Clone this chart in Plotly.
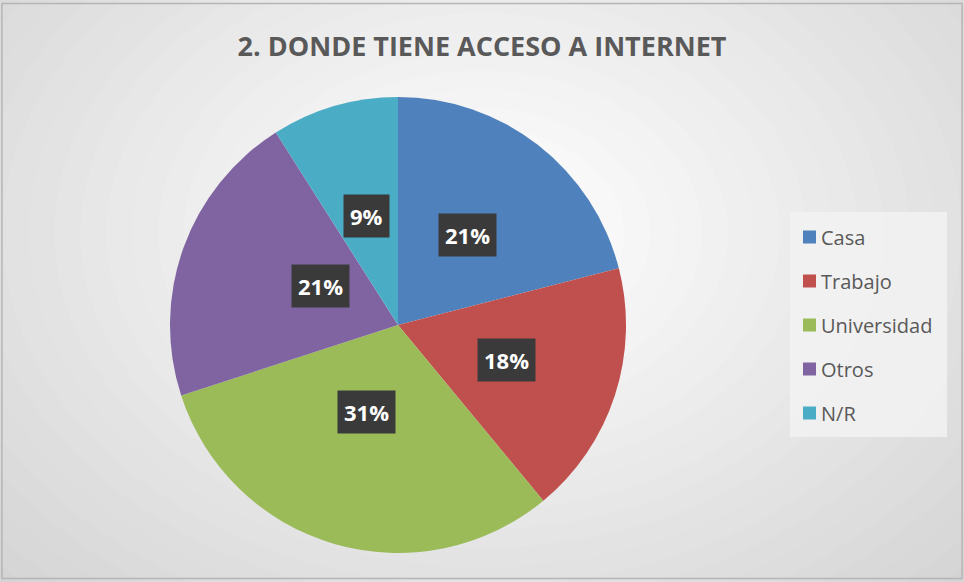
import math
import plotly.graph_objects as go

# Datos
categorias = ["Casa", "Trabajo", "Universidad", "Otros", "N/R"]
porcentajes = [21, 18, 31, 21, 9]
colores = ["#4f81bd", "#c0504d", "#9bbb59", "#8064a2", "#4bacc6"]
titulo = "2. DONDE TIENE ACCESO A INTERNET"

W, H = 964, 582
# Posición del pastel (px)
cx, cy, r = 398, 325, 228

fig = go.Figure(go.Pie(
    labels=categorias,
    values=porcentajes,
    marker=dict(colors=colores, line=dict(width=0)),
    sort=False,
    direction="clockwise",
    rotation=0,
    textinfo="none",
    hoverinfo="label+percent",
    showlegend=False,
    domain=dict(x=[(cx - r) / W, (cx + r) / W], y=[1 - (cy + r) / H, 1 - (cy - r) / H]),
))

# Fondo con degradado radial (elipses concéntricas)
shapes = []
n = 30
for i in range(n):
    t = i / (n - 1)
    g = int(206 + (255 - 206) * t)
    rx = 0.78 * (1 - t) + 0.04
    ry = 0.95 * (1 - t) + 0.05
    shapes.append(dict(type="circle", xref="paper", yref="paper",
                       x0=0.5 - rx, x1=0.5 + rx, y0=0.6 - ry, y1=0.6 + ry,
                       fillcolor=f"rgb({g},{g},{g})", line=dict(width=0), layer="below"))
shapes.append(dict(type="rect", xref="paper", yref="paper", x0=0.002, x1=0.998, y0=0.006, y1=0.994,
                   line=dict(color="#b5b5b5", width=1.5), layer="below"))

# Etiquetas con recuadro oscuro
total = sum(porcentajes)
annotations = []
acum = 0
for v in porcentajes:
    ang = 2 * math.pi * (acum + v / 2) / total
    acum += v
    px_ = cx + 0.5 * r * math.sin(ang)
    py_ = cy - 0.5 * r * math.cos(ang)
    annotations.append(dict(x=px_ / W, y=1 - py_ / H, xref="paper", yref="paper",
                            text=f"<b>{round(100 * v / total)}%</b>", showarrow=False,
                            font=dict(family="Open Sans", size=22, color="white"),
                            bgcolor="#3a3a3a", borderpad=6))

# Leyenda manual
lx0, lx1, ly0, ly1 = 790, 947, 212, 437
shapes.append(dict(type="rect", xref="paper", yref="paper",
                   x0=lx0 / W, x1=lx1 / W, y0=1 - ly1 / H, y1=1 - ly0 / H,
                   fillcolor="#f2f2f2", line=dict(width=0), opacity=0.85))
for i, (cat, col) in enumerate(zip(categorias, colores)):
    yy = 237 + i * 44
    shapes.append(dict(type="rect", xref="paper", yref="paper",
                       x0=803 / W, x1=816 / W, y0=1 - (yy + 6.5) / H, y1=1 - (yy - 6.5) / H,
                       fillcolor=col, line=dict(width=0)))
    annotations.append(dict(x=819 / W, y=1 - yy / H, xref="paper", yref="paper",
                            xanchor="left", yanchor="middle", text=cat, showarrow=False,
                            font=dict(family="Open Sans", size=20, color="#595959")))

fig.update_layout(
    width=W, height=H,
    margin=dict(l=0, r=0, t=0, b=0),
    paper_bgcolor="#cccccc",
    title=dict(text=f"<b>{titulo}</b>", x=0.5, xanchor="center", y=1 - 47 / H, yanchor="middle",
               font=dict(family="Open Sans", size=27, color="#595959")),
    shapes=shapes,
    annotations=annotations,
)

fig.write_html("out.html", config={"displayModeBar": False},
               post_script="document.body.style.margin='0';")
